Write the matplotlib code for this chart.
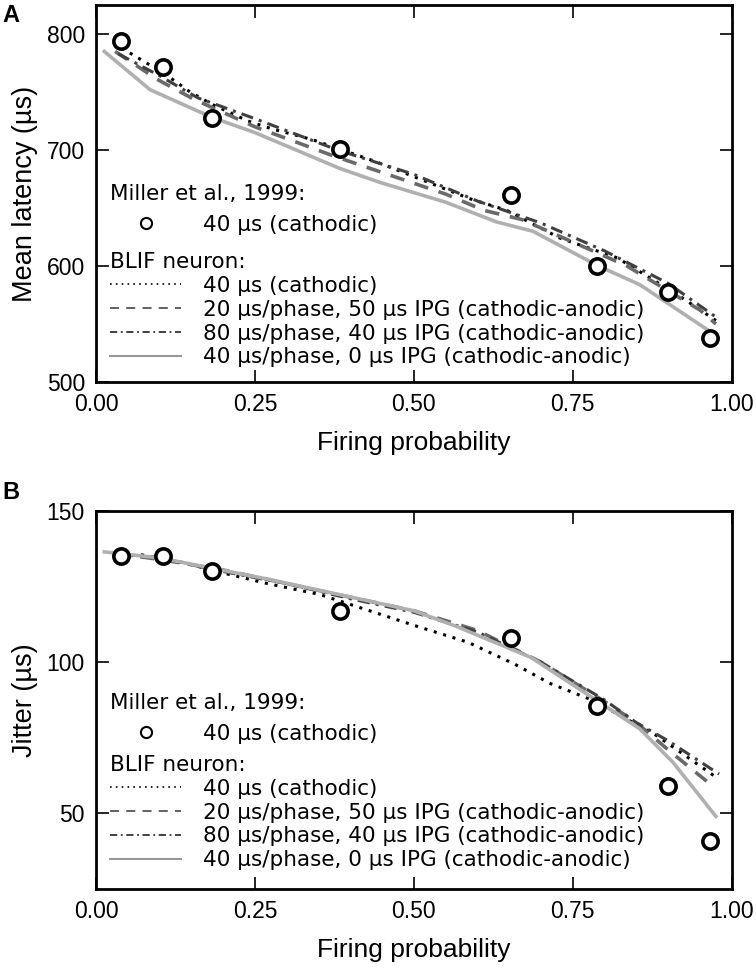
import matplotlib
matplotlib.use('Agg')
import matplotlib.pyplot as plt
from matplotlib.lines import Line2D
from matplotlib.ticker import FormatStrFormatter

plt.rcParams['font.family'] = ['Liberation Sans', 'DejaVu Sans']

# Miller et al., 1999 measurements (40 us cathodic)
prob_miller = [0.04, 0.105, 0.183, 0.384, 0.653, 0.788, 0.90, 0.965]
latency_miller = [794, 772, 728, 701, 661, 600, 578, 538]
jitter_miller = [135, 135, 130.3, 117, 108, 85.5, 59, 41]

# BLIF neuron, panel A (mean latency)
lat_cath_x = [0.04, 0.11, 0.148, 0.184, 0.239, 0.278, 0.34, 0.44, 0.588, 0.646, 0.73, 0.82, 0.918, 0.975]
lat_cath_y = [788, 765, 750, 739, 725, 718, 709, 690, 658, 648, 624, 607, 574, 553]
lat_20_x = [0.03, 0.096, 0.153, 0.25, 0.373, 0.55, 0.61, 0.67, 0.835, 0.95, 0.975]
lat_20_y = [785, 761, 744, 720, 695, 662, 648, 640, 600, 562, 550]
lat_80_x = [0.035, 0.1, 0.16, 0.25, 0.38, 0.5, 0.6, 0.7, 0.8, 0.9, 0.975]
lat_80_y = [783, 764, 745, 727, 700, 679, 656, 637, 613, 585, 556]
lat_40_x = [0.013, 0.085, 0.183, 0.25, 0.384, 0.447, 0.55, 0.63, 0.687, 0.79, 0.855, 0.97]
lat_40_y = [785, 752, 728, 715, 684, 672, 655, 638, 630, 600, 584, 542]

# BLIF neuron, panel B (jitter)
jit_cath_x = [0.04, 0.072, 0.132, 0.21, 0.27, 0.352, 0.448, 0.506, 0.585, 0.659, 0.714, 0.78, 0.882, 0.975]
jit_cath_y = [135, 135.5, 133.2, 129, 126, 122.4, 115.8, 111.8, 106.6, 99.3, 93, 87.5, 75.7, 62]
jit_20_x = [0.03, 0.1, 0.2, 0.3, 0.4, 0.5, 0.6, 0.7, 0.8, 0.85, 0.9, 0.97]
jit_20_y = [136, 134, 130.5, 126, 121.5, 117, 110.5, 100, 87, 80, 71, 59]
jit_80_x = [0.03, 0.1, 0.2, 0.3, 0.4, 0.5, 0.6, 0.7, 0.8, 0.85, 0.9, 0.98]
jit_80_y = [136, 134.5, 130, 126, 121, 116.5, 110, 100, 87.5, 80, 74, 63]
jit_40_x = [0.013, 0.1, 0.185, 0.27, 0.38, 0.5, 0.565, 0.684, 0.79, 0.855, 0.907, 0.975]
jit_40_y = [136.5, 134.5, 131, 127.5, 122.5, 117, 112, 101.6, 87, 78, 67, 49]

blif_labels = ['40 µs (cathodic)',
               '20 µs/phase, 50 µs IPG (cathodic-anodic)',
               '80 µs/phase, 40 µs IPG (cathodic-anodic)',
               '40 µs/phase, 0 µs IPG (cathodic-anodic)']

# line styles for the four BLIF curves
STYLES = [dict(color='black', ls=(0, (1, 2.2)), lw=2.2),
          dict(color='#6a6a6a', ls=(0, (4, 3)), lw=2.6),
          dict(color='#404040', ls=(0, (4, 2, 1, 2)), lw=2.2),
          dict(color='#b0b0b0', ls='-', lw=2.6)]
LEG_STYLES = [dict(color='black', ls=(0, (1, 2.5)), lw=1.2),
              dict(color='#555555', ls=(0, (5, 4)), lw=1.3),
              dict(color='#333333', ls=(0, (4, 2, 1, 2)), lw=1.3),
              dict(color='#999999', ls='-', lw=1.5)]

LEG_FONT = {'family': 'DejaVu Sans', 'size': 15.5}

fig = plt.figure(figsize=(7.56, 9.69), dpi=100)
axA = fig.add_axes([0.127, 0.6058, 0.841, 0.389])
axB = fig.add_axes([0.127, 0.0826, 0.841, 0.390])


def draw_panel(ax, miller_y, curves, ylim, yticks, ylabel, leg_y):
    for (xs, ys), st in zip(curves, STYLES):
        ax.plot(xs, ys, linestyle=st['ls'], color=st['color'], lw=st['lw'])
    ax.plot(prob_miller, miller_y, 'o', ms=11, mfc='white', mec='black', mew=2.6,
            zorder=5)
    ax.set_xlim(0, 1)
    ax.set_ylim(*ylim)
    ax.set_xticks([0, 0.25, 0.5, 0.75, 1.0])
    ax.set_yticks(yticks)
    ax.xaxis.set_major_formatter(FormatStrFormatter('%.2f'))
    ax.tick_params(direction='in', length=9, width=1.2, labelsize=16.5,
                   top=True, right=True, pad=8)
    for sp in ax.spines.values():
        sp.set_linewidth(2)
    ax.set_xlabel('Firing probability', fontsize=19, labelpad=11)
    ax.set_ylabel(ylabel, fontsize=19.5, labelpad=6)

    # legends: experimental data and model curves
    h1 = [Line2D([], [], marker='o', ls='none', ms=8, mfc='white', mec='black', mew=1.5)]
    leg1 = ax.legend(h1, ['40 µs (cathodic)'], title='Miller et al., 1999:',
                     loc='upper left', bbox_to_anchor=(0.022, leg_y[0]), frameon=False,
                     alignment='left', handlelength=3.3, handletextpad=1.0,
                     borderpad=0, borderaxespad=0,
                     prop=LEG_FONT, title_fontproperties=LEG_FONT)
    ax.add_artist(leg1)
    h2 = [Line2D([], [], linestyle=s['ls'], color=s['color'], lw=s['lw'])
          for s in LEG_STYLES]
    ax.legend(h2, blif_labels, title='BLIF neuron:', loc='upper left',
              bbox_to_anchor=(0.022, leg_y[1]), frameon=False, alignment='left',
              handlelength=3.3, handletextpad=1.0, labelspacing=0.18,
              borderpad=0, borderaxespad=0,
              prop=LEG_FONT, title_fontproperties=LEG_FONT)


draw_panel(axA, latency_miller,
           [(lat_cath_x, lat_cath_y), (lat_20_x, lat_20_y),
            (lat_80_x, lat_80_y), (lat_40_x, lat_40_y)],
           (500, 825), [500, 600, 700, 800], 'Mean latency (µs)', (0.525, 0.345))
draw_panel(axB, jitter_miller,
           [(jit_cath_x, jit_cath_y), (jit_20_x, jit_20_y),
            (jit_80_x, jit_80_y), (jit_40_x, jit_40_y)],
           (25, 150), [50, 100, 150], 'Jitter (µs)', (0.518, 0.355))

fig.text(0.003, 0.984, 'A', fontsize=17, fontweight='bold', va='center')
fig.text(0.003, 0.492, 'B', fontsize=17, fontweight='bold', va='center')

fig.savefig('out.png', dpi=100)
